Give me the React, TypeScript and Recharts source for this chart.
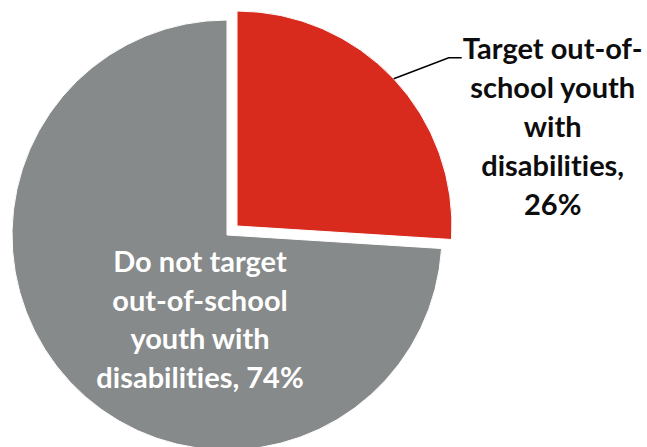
import React from 'react';
import { PieChart, Pie, Cell } from 'recharts';

const categories = ['Target out-of-school youth with disabilities', 'Do not target out-of-school youth with disabilities'];
const values = [26, 74];
const colors = ['#D92A1E', '#878A8A'];
const targetLabelLines = ['Target out-of-', 'school youth', 'with', 'disabilities,'];
const notTargetLabelLines = ['Do not target', 'out-of-school', 'youth with', 'disabilities,'];

const data = categories.map((name, i) => ({ name, value: values[i] }));

const RADIAN = Math.PI / 180;
const FONT = 'Lato, "Open Sans", sans-serif';
const textStyle: React.CSSProperties = { fontVariantLigatures: 'none', fontFeatureSettings: '"liga" 0, "clig" 0' };

const renderTargetLabel = (props: any) => {
  const { cx, cy, midAngle, outerRadius, index, value } = props;
  if (index !== 0) return null;
  const x0 = cx + outerRadius * Math.cos(-midAngle * RADIAN);
  const y0 = cy + outerRadius * Math.sin(-midAngle * RADIAN);
  const ex = x0 + 55;
  const ey = y0 - 21;
  const tx = ex + 13;
  const textX = tx + 91;
  const lines = [...targetLabelLines, `${value}%`];
  return (
    <g>
      <polyline points={`${x0},${y0} ${ex},${ey} ${tx},${ey}`} fill="none" stroke="#000" strokeWidth={1.5} />
      <text x={textX} y={ey + 1} textAnchor="middle" fill="#0d0d0d" fontFamily={FONT} fontWeight={700} fontSize={29} style={textStyle}>
        {lines.map((l, i) => (
          <tspan key={i} x={textX} dy={i === 0 ? 0 : 39}>{l}</tspan>
        ))}
      </text>
    </g>
  );
};

const renderNotTargetLabel = (props: any) => {
  const { cx, cy, index, value } = props;
  if (index !== 1) return null;
  const textX = cx - 27;
  const lines = [...notTargetLabelLines.slice(0, 3), `${notTargetLabelLines[3]} ${value}%`];
  return (
    <text x={textX} y={cy + 37} textAnchor="middle" fill="#ffffff" fontFamily={FONT} fontWeight={700} fontSize={29} style={textStyle}>
      {lines.map((l, i) => (
        <tspan key={i} x={textX} dy={i === 0 ? 0 : 38.7}>{l}</tspan>
      ))}
    </text>
  );
};

export default function App() {
  return (
    <div style={{ position: 'absolute', left: 0, top: 0, width: 647, height: 447, background: '#fff' }}>
      <PieChart width={647} height={447} margin={{ top: 0, right: 0, bottom: 0, left: 0 }}>
        <Pie
          data={data}
          dataKey="value"
          nameKey="name"
          cx={227}
          cy={235}
          outerRadius={215}
          startAngle={90}
          endAngle={-270}
          isAnimationActive={false}
          labelLine={false}
          label={renderNotTargetLabel}
          stroke="none"
        >
          {data.map((d, i) => (
            <Cell key={i} fill={i === 1 ? colors[1] : 'transparent'} stroke={i === 1 ? '#ffffff' : 'none'} strokeWidth={1} />
          ))}
        </Pie>
        <Pie
          data={data}
          dataKey="value"
          nameKey="name"
          cx={237}
          cy={226}
          outerRadius={215}
          startAngle={90}
          endAngle={-270}
          isAnimationActive={false}
          labelLine={false}
          label={renderTargetLabel}
          stroke="none"
        >
          {data.map((d, i) => (
            <Cell key={i} fill={i === 0 ? colors[0] : 'transparent'} stroke={i === 0 ? '#ffffff' : 'none'} strokeWidth={1} />
          ))}
        </Pie>
      </PieChart>
    </div>
  );
}
